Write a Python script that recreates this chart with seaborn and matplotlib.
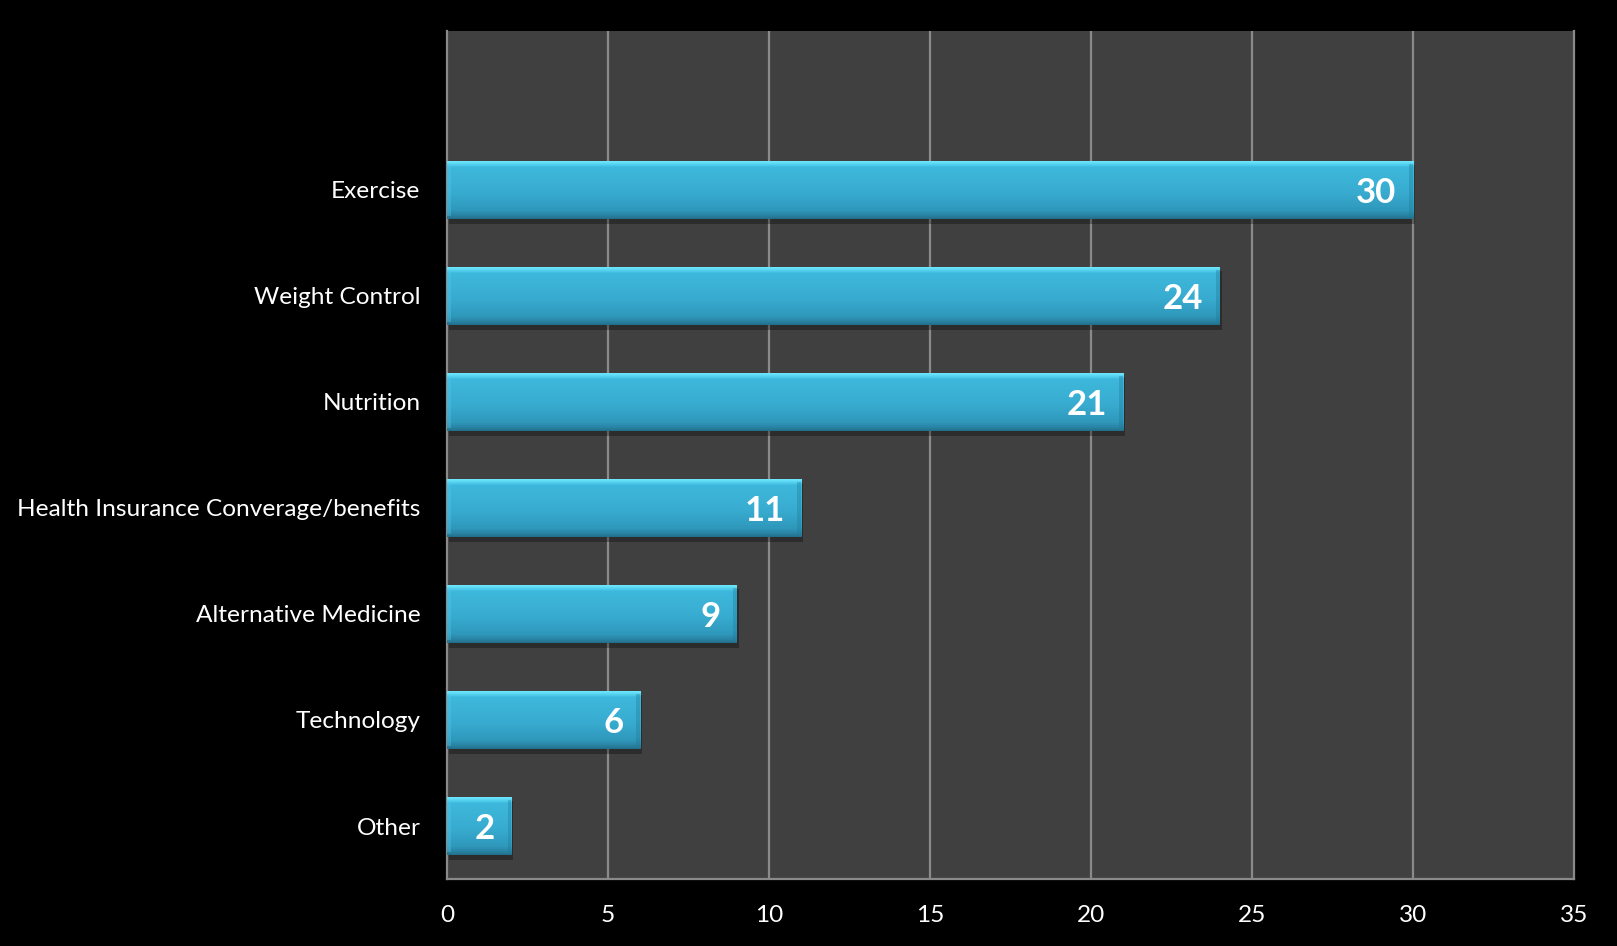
import numpy as np
import pandas as pd
import matplotlib
matplotlib.use("Agg")
import matplotlib.pyplot as plt
import matplotlib.patheffects as pe
from matplotlib.colors import LinearSegmentedColormap
import seaborn as sns

categories = ["Exercise", "Weight Control", "Nutrition",
              "Health Insurance Converage/benefits", "Alternative Medicine",
              "Technology", "Other"]
values = [30, 24, 21, 11, 9, 6, 2]
x_ticks = [0, 5, 10, 15, 20, 25, 30, 35]

df = pd.DataFrame({"topic": categories, "count": values})

sns.set_theme(style="dark")
plt.rcParams["font.family"] = ["Lato", "DejaVu Sans"]

fig = plt.figure(figsize=(16.17, 9.46), dpi=100, facecolor="black")
ax = fig.add_axes([447 / 1617, 1 - 879 / 946, (1574 - 447) / 1617, (879 - 31) / 946])
ax.set_facecolor("#404040")

sns.barplot(data=df, x="count", y="topic", orient="h", color="#3AB0D4",
            width=0.555, ax=ax, saturation=1, zorder=3)

ax.set_xlim(0, 35)
ax.set_ylim(6.5, -1.5)
ax.set_xticks(x_ticks)
ax.set_xticklabels([str(t) for t in x_ticks])
ax.set_xlabel("")
ax.set_ylabel("")

# vertical grid lines
ax.grid(False)
for t in x_ticks[1:-1]:
    ax.axvline(t, color="#8a8a8a", lw=1.6, zorder=1)

for side in ["left", "bottom", "right"]:
    ax.spines[side].set_visible(True)
    ax.spines[side].set_color("#8a8a8a")
    ax.spines[side].set_linewidth(1.6)
ax.spines["top"].set_visible(False)

ax.tick_params(axis="both", length=0, colors="white", labelsize=17.6)
ax.tick_params(axis="y", pad=19)
ax.tick_params(axis="x", pad=19)

# glossy bevel fill for each bar
grad_cmap = LinearSegmentedColormap.from_list(
    "bevel",
    [(0.0, "#78ecff"), (0.06, "#5cd8f4"), (0.12, "#3db8dc"),
     (0.55, "#38acd0"), (0.85, "#2f98bb"), (0.93, "#2a86a6"),
     (1.0, "#216f8a")])
grad = np.linspace(0, 1, 256).reshape(-1, 1)

for patch in ax.patches:
    x0, y0 = patch.get_x(), patch.get_y()
    w, h = patch.get_width(), patch.get_height()
    patch.set_edgecolor("none")
    patch.set_path_effects([pe.SimplePatchShadow(offset=(1.5, -3), alpha=0.3,
                                                  shadow_rgbFace="black"),
                            pe.Normal()])
    im = ax.imshow(grad, cmap=grad_cmap, aspect="auto",
                   extent=(x0, x0 + w, y0 + h, y0), zorder=4,
                   interpolation="bilinear")
    im.set_clip_path(patch)
    # thin side bevels
    bev = 0.12
    ax.fill_between([x0, x0 + bev], [y0 + 0.06 * h] * 2, [y0 + 0.94 * h] * 2,
                    color="#55c8e8", alpha=0.35, zorder=5, lw=0)
    ax.fill_between([x0 + w - bev, x0 + w], [y0 + 0.06 * h] * 2,
                    [y0 + 0.94 * h] * 2,
                    color="#1f7896", alpha=0.35, zorder=5, lw=0)

# value labels inside the bar ends
for i, v in enumerate(values):
    ax.annotate(str(v), xy=(v, i), xytext=(-12, -2), textcoords="offset points",
                ha="right", va="center", color="white", fontsize=25,
                fontweight="bold", zorder=6)

fig.savefig("out.png", dpi=100, facecolor="black")
